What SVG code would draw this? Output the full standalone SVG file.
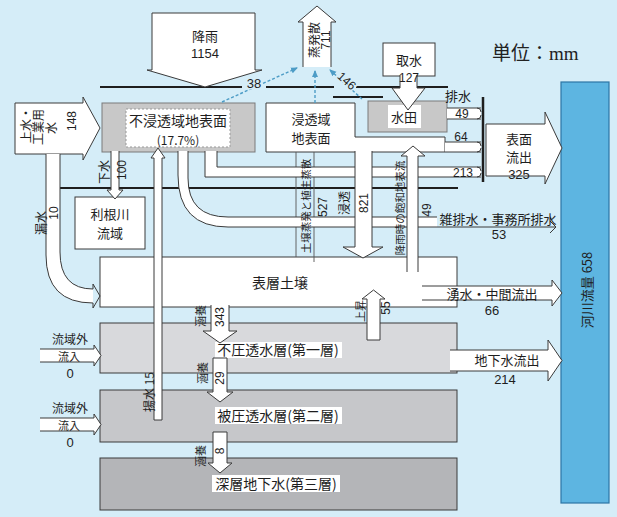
<svg xmlns="http://www.w3.org/2000/svg" width="617" height="517" viewBox="0 0 617 517">
<style>
.t{font-family:"Noto Sans CJK JP","Noto Sans",sans-serif;font-size:13px;fill:#1e1e1e;text-anchor:middle}
.s{font-size:11px}
.xs{font-size:10.5px}
.m{font-size:12px}
.L{font-size:14px}
.n{font-family:"Liberation Sans","Noto Sans CJK JP",sans-serif;font-size:12px;fill:#1e1e1e;text-anchor:middle}
.v{dominant-baseline:central}
.w{fill:#fff;stroke:#3a3a3a;stroke-width:1}
.o{fill:none;stroke:#3a3a3a;stroke-width:1}
.g{stroke:#1e1e1e;stroke-width:2.2;fill:none}
.b{stroke:#4d9cc6;stroke-width:1.4;stroke-dasharray:3 2;fill:none;marker-end:url(#ba)}
.h{paint-order:stroke;stroke:#d5edf8;stroke-width:3px}
</style>
<defs>
<marker id="ba" markerWidth="8" markerHeight="8" refX="6" refY="4" orient="auto" markerUnits="userSpaceOnUse"><path d="M0,1 L7,4 L0,7 Z" fill="#4d9cc6"/></marker>
</defs>
<rect width="617" height="517" fill="#d5edf8"/>
<g id="title"><text x="492" y="60" style="font-family:'Liberation Serif','Noto Sans CJK JP',serif;font-size:19px;fill:#222">単位：mm</text></g>

<g id="soil"><rect x="100" y="257" width="357" height="50" class="w"/><text class="t L" x="280" y="288">表層土壌</text></g>
<g id="aquifer1"><rect x="100" y="323" width="357" height="50" fill="#d8d9dc" stroke="#3a3a3a"/><rect x="215" y="342" width="127" height="16" fill="#fff"/><text class="t L" x="278" y="355">不圧透水層(第一層)</text></g>
<g id="aquifer2"><rect x="100" y="390" width="357" height="52" fill="#c6c7ca" stroke="#3a3a3a"/><rect x="215" y="407" width="127" height="17" fill="#fff"/><text class="t L" x="278" y="421">被圧透水層(第二層)</text></g>
<g id="aquifer3"><rect x="100" y="458" width="357" height="52" fill="#b4b5b8" stroke="#3a3a3a"/><rect x="212" y="475" width="128" height="17" fill="#fff"/><text class="t L" x="276" y="489">深層地下水(第三層)</text></g>

<g id="river"><rect x="561" y="82" width="48" height="421" fill="#5db5e1" stroke="#2c76a6" stroke-width="1.2"/><text class="t v" transform="translate(586,290) rotate(-90)">河川流量 658</text></g>

<g id="ground">
<path class="g" d="M100,87 H242 M266,87 H334 M356,87 H448 M333,97 H383"/>
<path class="g" d="M48,188 H458" stroke-width="2.4"/>
</g>

<g id="impervious"><rect x="102" y="103" width="153" height="49" fill="#c8c8c8" stroke="#7a7a7a"/><rect x="126" y="109" width="104" height="38" fill="#fff" stroke="#999" stroke-dasharray="2 2"/><text class="t L" x="178" y="126">不浸透域地表面</text><text class="t m" x="178" y="145">(17.7%)</text></g>
<g id="pervious"><path d="M266,103 H355 V137 H445 V152 H266 Z" class="w"/><text class="t" x="311" y="124">浸透域</text><text class="t" x="311" y="143">地表面</text></g>
<g id="paddy"><rect x="368" y="101" width="79" height="31" fill="#c8c8c8" stroke="#7a7a7a"/><rect x="388" y="105" width="33" height="23" fill="#fff"/><text class="t" x="404" y="122">水田</text></g>
<g id="tone"><rect x="75" y="197" width="70" height="52" class="w"/><text class="t" x="110" y="219">利根川</text><text class="t" x="110" y="238">流域</text></g>

<g id="rain"><path class="w" d="M152,13 H255 V70 H262 L205,87 L147,70 H152 Z"/><text class="t" x="205" y="41">降雨</text><text class="n" x="205" y="58" style="font-size:13px">1154</text></g>
<g id="evap"><path d="M303,67 V22 H298 L317,6 L336,22 H331 V67" class="w"/><text class="t m v" transform="translate(313,40) rotate(-90)">蒸発散</text><text class="n s v" transform="translate(326,40) rotate(-90)">711</text></g>
<g id="supply"><path class="w" d="M15,103 H83 V97 L100,128 L83,160 V154 H15 Z"/>
<text class="t m v" transform="translate(25,125) rotate(-90)">上水・</text>
<text class="t m v" transform="translate(37,127) rotate(-90)">工業用</text>
<text class="t m v" transform="translate(50,128) rotate(-90)">水</text>
<text class="n v" transform="translate(72,121) rotate(-90)">148</text></g>
<g id="intake"><rect x="383" y="43" width="52" height="33" class="w"/><text class="t" x="409" y="65">取水</text></g>

<g id="connectors">
<path d="M46,154 V255 Q46,303 93,303 V289 Q60,289 60,252 V154 Z" fill="#fff"/>
<path class="o" d="M46,154 V255 Q46,303 93,303 M60,154 V252 Q60,289 93,289 M93,289 V284 L100,296 L93,308 V303"/>
<path d="M296,152 V257 M314,152 V262" stroke="#555" stroke-width="0.9" fill="none"/>
<path d="M205,151 V177 H481 V167 H217 V151 Z" fill="#fff"/>
<path class="o" d="M205,151 V177 H481 M217,151 V167 H481"/>
<path d="M178,151 V175 Q178,227 228,227 H437 V217 H228 Q188,217 188,178 V151 Z" fill="#fff"/>
<path class="o" d="M178,151 V175 Q178,227 228,227 H556 M188,151 V178 Q188,217 228,217 H437 M550,221 L556,227 L550,233"/>
<rect x="447" y="108" width="34" height="11" fill="#fff"/>
<path class="o" d="M447,108 H481 M447,119 H481"/>
<rect x="445" y="142" width="36" height="10" fill="#fff"/>
<path class="o" d="M445,142 H481 M445,152 H481"/>
<path class="o" d="M477,108 Q481,108 481,112 M477,119 Q481,119 481,115 M477,142 Q481,142 481,146 M477,152 Q481,152 481,148 M477,167 Q481,167 481,171 M477,177 Q481,177 481,173"/>
<path d="M483,97 V182" stroke="#1e1e1e" stroke-width="2.5"/>
<path class="w" d="M486,124 H545 V112 L562,148 L545,184 V176 H486 Z"/>
<path class="w" d="M111,151 V190 H107 L115,199 L123,190 H119 V151"/>
<path class="w" d="M154,420 V158 H151 L158,148 L165,158 H162 V420 Z"/>
<path class="w" d="M355,151 V247 H343 L363,258 L383,247 H372 V151"/>
<path class="w" d="M407,272 V156 H401 L413,146 L425,156 H418 V272"/>
<path class="w" d="M400,75 V88 H392 L408,110 L425,88 H417 V75"/>
<path class="w" d="M422,286 H552 V280 L562,293 L552,306 V300 H422"/>
<path class="w" d="M450,350 H548 V340 L562,360.5 L548,381 V371 H450"/>
<path class="w" d="M211,305 V331 H203 L220,343 L237,331 H229 V305"/>
<path class="w" d="M213,358 V392 H207 L220,402 L233,392 H227 V358 Z"/>
<path class="w" d="M213,432 V463 H208 L220,473 L232,463 H227 V432 Z"/>
<path class="w" d="M367,340 V299 H362 L373.5,290 L385,299 H380 V340 Z"/>
<path class="w" d="M40,349 H94 V345 L101,355.5 L94,366 V362 H40"/>
<path class="w" d="M40,418 H94 V414 L101,424.5 L94,435 V431 H40"/>
<path class="b" d="M222,102 L297,68"/>
<path class="b" d="M315,103 L315,71"/>
<path class="b" d="M362,99 L330,70"/>

<text class="n h" x="254" y="88" style="font-size:13px">38</text>
<text class="n h" transform="translate(344,84) rotate(42)" style="font-size:12px">146</text>
<text class="n" x="409" y="82">127</text>
<text class="t" x="458" y="101">排水</text>
<text class="n s" x="462" y="118">49</text>
<text class="n m" x="461" y="141">64</text>
<text class="n s" x="463" y="177">213</text>
<text class="t" x="519" y="144">表面</text>
<text class="t" x="519" y="162">流出</text>
<text class="n" x="519" y="179" style="font-size:13px">325</text>
<text class="t" x="498" y="224">雑排水・事務所排水</text>
<text class="n" x="499" y="239" style="font-size:13px">53</text>
<text class="t" x="492" y="299">湧水・中間流出</text>
<text class="n" x="492" y="315" style="font-size:13px">66</text>
<text class="t" x="507" y="365">地下水流出</text>
<text class="n" x="505" y="384" style="font-size:13px">214</text>
<text class="t m v" transform="translate(103,172) rotate(-90)">下水</text>
<text class="n s v" transform="translate(122,170) rotate(-90)">100</text>
<text class="t m v" transform="translate(40,223) rotate(-90)">漏水</text>
<text class="n s v" transform="translate(54,213) rotate(-90)">10</text>
<text class="t m v" transform="translate(148,392) rotate(-90)">揚水 15</text>
<text class="t xs v" transform="translate(305,206) rotate(-90)">土壌蒸発と植生蒸散</text>
<text class="n s v" transform="translate(323,207) rotate(-90)">527</text>
<text class="t m v" transform="translate(343,203) rotate(-90)">浸透</text>
<text class="n m v" transform="translate(364,203) rotate(-90)">821</text>
<text class="t xs v" transform="translate(399,208) rotate(-90)">降雨時の飽和地表流</text>
<text class="n s v" transform="translate(427,210) rotate(-90)">49</text>
<text class="t s v" transform="translate(200,316) rotate(-90)">涵養</text>
<text class="n s v" transform="translate(220,317) rotate(-90)">343</text>
<text class="t s v" transform="translate(202,373) rotate(-90)">涵養</text>
<text class="n s v" transform="translate(220,378) rotate(-90)">29</text>
<text class="t s v" transform="translate(200,456) rotate(-90)">涵養</text>
<text class="n s v" transform="translate(220,451) rotate(-90)">8</text>
<text class="t s v" transform="translate(360,311) rotate(-90)">上昇</text>
<text class="n s v" transform="translate(386,308) rotate(-90)">55</text>
<text class="t m" x="70" y="344">流域外</text>
<text class="t s" x="69" y="361">流入</text>
<text class="n" x="70" y="378" style="font-size:13px">0</text>
<text class="t m" x="70" y="413">流域外</text>
<text class="t s" x="69" y="430">流入</text>
<text class="n" x="70" y="447" style="font-size:13px">0</text>
</g>
</svg>
